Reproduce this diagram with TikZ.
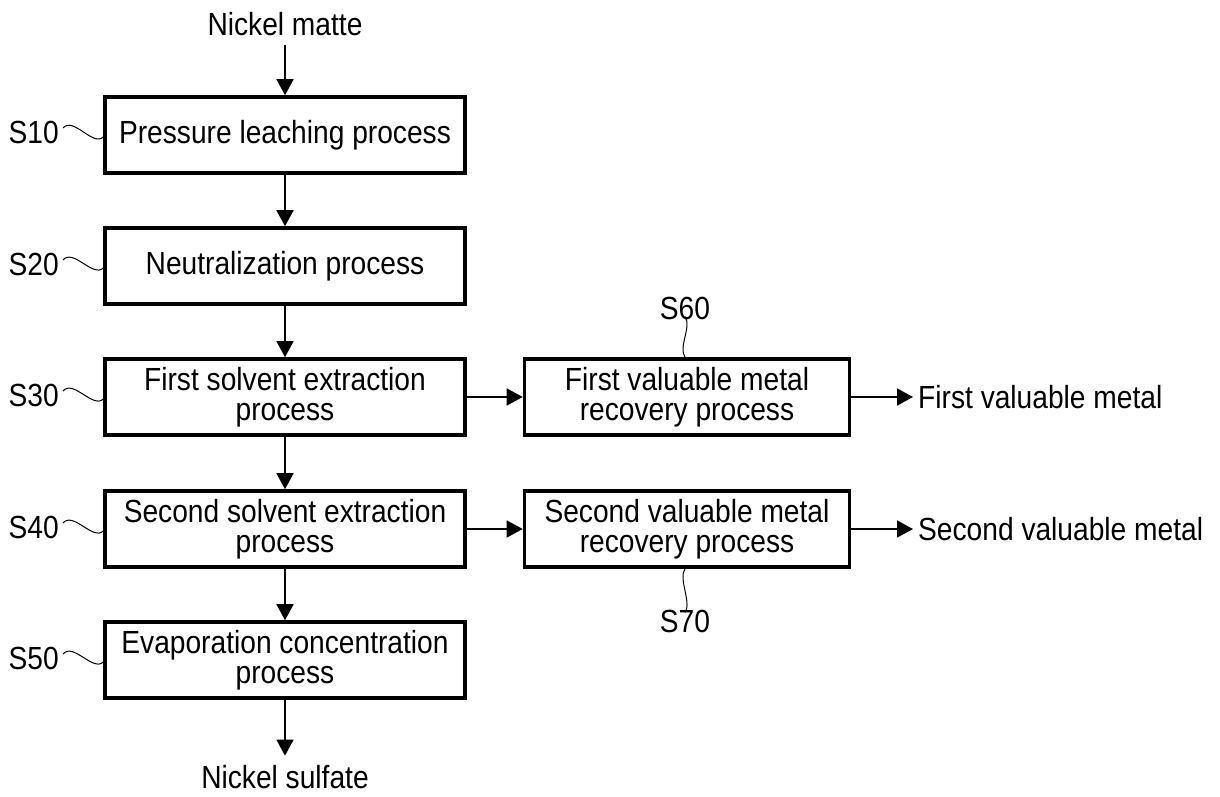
\documentclass[tikz,border=0pt]{standalone}
\usepackage{fontspec}
\setmainfont{Liberation Sans}[FakeStretch=0.88]
\usetikzlibrary{arrows.meta}

\tikzset{
  txt/.style={font=\fontsize{32}{30}\selectfont, inner sep=1pt},
  procbox/.style={txt, draw, line width=3.6pt, align=center,
    minimum height=76pt, inner sep=0pt},
  mainbox/.style={procbox, minimum width=360pt},
  sidebox/.style={procbox, minimum width=325pt},
  flow/.style={line width=1.6pt, -{Triangle[length=16pt,width=17pt]}},
  tagline/.style={line width=1pt},
}

\begin{document}
\begin{tikzpicture}[x=1pt,y=-1pt]
  \useasboundingbox (0,0) rectangle (1220,796);

  % main process column
  \node[mainbox] (s10) at (285,135) {Pressure leaching process};
  \node[mainbox] (s20) at (285,266) {Neutralization process};
  \node[mainbox] (s30) at (285,397) {First solvent extraction\\process};
  \node[mainbox] (s40) at (285,529) {Second solvent extraction\\process};
  \node[mainbox] (s50) at (285,660) {Evaporation concentration\\process};

  % side recovery processes
  \node[sidebox] (s60) at (687,397) {First valuable metal\\recovery process};
  \node[sidebox] (s70) at (687,529) {Second valuable metal\\recovery process};

  % input / outputs
  \node[txt, anchor=base] (matte) at (285,35) {Nickel matte};
  \node[txt, anchor=base] (sulfate) at (285,788) {Nickel sulfate};
  \node[txt, anchor=west] (out1) at (917,397) {First valuable metal};
  \node[txt, anchor=west] (out2) at (917,529) {Second valuable metal};

  % step labels
  \node[txt, anchor=east] (l10) at (60,132) {S10};
  \node[txt, anchor=east] (l20) at (60,264) {S20};
  \node[txt, anchor=east] (l30) at (60,395) {S30};
  \node[txt, anchor=east] (l40) at (60,527) {S40};
  \node[txt, anchor=east] (l50) at (60,658) {S50};
  \node[txt] (l60) at (685,308) {S60};
  \node[txt] (l70) at (685,621) {S70};

  % flow arrows
  \draw[flow, shorten <=8pt] (matte.south) -- (s10.north);
  \draw[flow] (s10.south) -- (s20.north);
  \draw[flow] (s20.south) -- (s30.north);
  \draw[flow] (s30.south) -- (s40.north);
  \draw[flow] (s40.south) -- (s50.north);
  \draw[flow, shorten >=8pt] (s50.south) -- (sulfate.north);
  \draw[flow] (s30.east) -- (s60.west);
  \draw[flow] (s40.east) -- (s70.west);
  \draw[flow, shorten >=4pt] (s60.east) -- (out1.west);
  \draw[flow, shorten >=4pt] (s70.east) -- (out2.west);

  % wavy leader lines
  \foreach \n in {10,20,30,40,50}{
    \draw[tagline] ([xshift=3pt,yshift=4pt]l\n.east)
      .. controls +(10,-12) and +(-10,10) .. ([yshift=-2pt]s\n.west);
  }
  \draw[tagline] ([yshift=4pt]l60.south)
    .. controls +(7,10) and +(-7,-10) .. ([xshift=-2pt]s60.north);
  \draw[tagline] ([xshift=-2pt]s70.south)
    .. controls +(-7,10) and +(7,-10) .. ([yshift=-4pt]l70.north);
\end{tikzpicture}
\end{document}
